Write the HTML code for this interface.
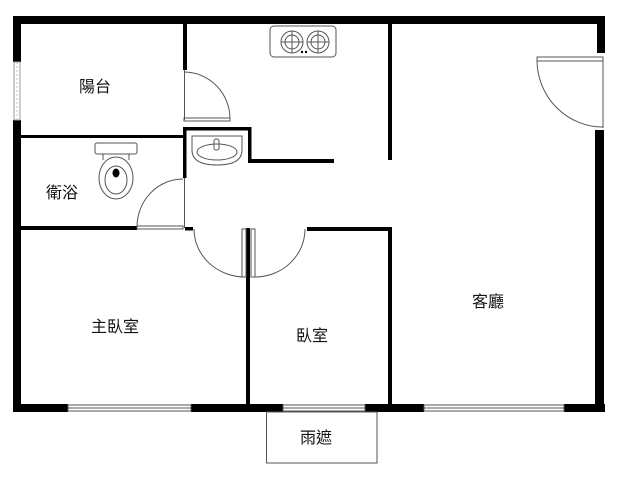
<!DOCTYPE html>
<html><head><meta charset="utf-8"><style>
body{margin:0;background:#fff}
svg{display:block}
text{font-family:"Liberation Sans","Noto Sans CJK TC",sans-serif;font-size:16px;fill:#111}
</style></head><body>
<svg width="630" height="480" viewBox="0 0 630 480" xmlns="http://www.w3.org/2000/svg">
<rect width="630" height="480" fill="#fff"/>
<g fill="#000">
<!-- outer walls -->
<rect x="13" y="16" width="592" height="8"/>
<rect x="13" y="16" width="8" height="46"/>
<rect x="13" y="120" width="8" height="292"/>
<rect x="597" y="16" width="8" height="37"/>
<rect x="595" y="130" width="9" height="282"/>
<!-- bottom wall segments -->
<rect x="13" y="404" width="55" height="8"/>
<rect x="191" y="404" width="92" height="8"/>
<rect x="365" y="404" width="59" height="8"/>
<rect x="564" y="404" width="41" height="8"/>
<!-- interior -->
<rect x="183" y="24" width="4" height="46"/>
<rect x="21" y="135" width="162" height="3"/>
<rect x="183" y="127" width="68" height="3.5"/>
<rect x="248" y="127" width="3.5" height="36"/>
<rect x="248" y="159" width="86" height="4"/>
<rect x="183" y="127" width="3.5" height="51"/>
<rect x="388" y="24" width="4" height="136"/>
<rect x="21" y="226" width="116" height="4"/>
<rect x="185" y="227" width="8" height="3.5"/>
<rect x="246" y="228" width="4" height="184"/>
<rect x="307" y="227" width="85" height="4"/>
<rect x="388" y="227" width="4" height="185"/>
</g>
<g fill="none" stroke="#555" stroke-width="1">
<!-- left window -->
<rect x="14" y="62" width="6" height="58" stroke="#999"/>
<line x1="17" y1="62" x2="17" y2="120" stroke="#bbb" stroke-dasharray="2,2"/>
<!-- bottom windows -->
<rect x="68" y="405" width="123" height="6"/><line x1="68" y1="408" x2="191" y2="408"/>
<rect x="283" y="405" width="82" height="6"/><line x1="283" y1="408" x2="365" y2="408"/>
<rect x="424" y="405" width="140" height="6"/><line x1="424" y1="408" x2="564" y2="408"/>
<!-- awning -->
<rect x="266.5" y="412" width="110.5" height="51"/>
<!-- balcony door -->
<path d="M184 72 A46 47 0 0 1 230 119"/>
<rect x="184" y="118" width="46" height="3"/>
<line x1="184.5" y1="70" x2="184.5" y2="120"/>
<!-- bath door -->
<path d="M137 227 A46 48 0 0 1 183 179"/>
<rect x="137" y="226" width="46" height="3"/>
<line x1="184.5" y1="178" x2="184.5" y2="228"/>
<!-- master door -->
<path d="M194 229 A51 48 0 0 0 245 277"/>
<rect x="242" y="229" width="4" height="48"/>
<!-- bedroom door -->
<path d="M255 277 A50 48 0 0 0 305 229"/>
<rect x="251" y="229" width="4" height="48"/>
<!-- right door -->
<path d="M537 60 A66 67 0 0 0 603 127"/>
<rect x="537" y="57" width="66" height="4"/>
<line x1="603" y1="57" x2="603" y2="128"/>
<!-- stove -->
<rect x="270" y="26" width="66" height="31" rx="4"/>
<circle cx="292" cy="42" r="11"/><circle cx="292" cy="42" r="7"/>
<line x1="281" y1="42" x2="303" y2="42"/><line x1="292" y1="31" x2="292" y2="53"/>
<circle cx="318" cy="42" r="11"/><circle cx="318" cy="42" r="7"/>
<line x1="307" y1="42" x2="329" y2="42"/><line x1="318" y1="31" x2="318" y2="53"/>
<!-- sink -->
<path d="M192 136 H242 V150 Q242 165 217 165 Q192 165 192 150 Z"/>
<ellipse cx="217" cy="152" rx="20" ry="8"/>
<rect x="214" y="139" width="5" height="11" rx="2"/>
<!-- toilet -->
<rect x="95" y="143" width="42" height="11" rx="2"/>
<path d="M103 154 L103 160 M129 154 L129 160"/>
<ellipse cx="116" cy="178" rx="17" ry="21"/>
<ellipse cx="116" cy="180" rx="11" ry="14"/>
</g>
<circle cx="302" cy="52" r="1.2" fill="#000"/><circle cx="306" cy="52" r="1.2" fill="#000"/>
<ellipse cx="116" cy="173" rx="3.5" ry="4.5" fill="#000"/>
<text x="95" y="92" text-anchor="middle">陽台</text>
<text x="62" y="198" text-anchor="middle">衛浴</text>
<text x="115" y="332" text-anchor="middle">主臥室</text>
<text x="312" y="341" text-anchor="middle">臥室</text>
<text x="488" y="307" text-anchor="middle">客廳</text>
<text x="316" y="443" text-anchor="middle">雨遮</text>
</svg>
</body></html>
